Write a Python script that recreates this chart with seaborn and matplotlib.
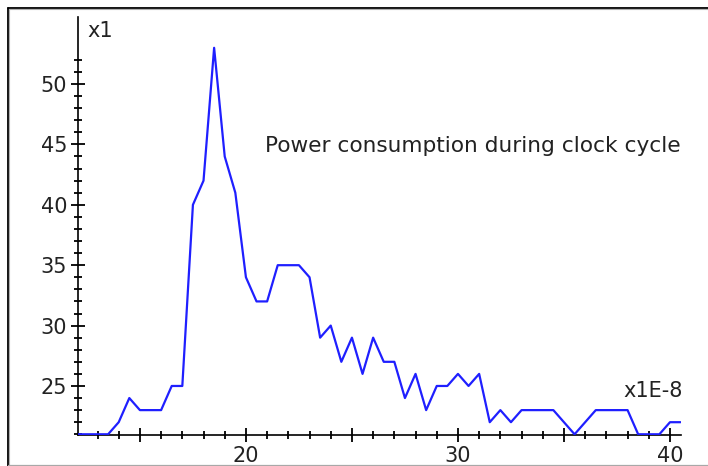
import numpy as np
import pandas as pd
import matplotlib
matplotlib.use("Agg")
import matplotlib.pyplot as plt
import seaborn as sns
from matplotlib.ticker import FixedLocator, FuncFormatter, MultipleLocator
from matplotlib.lines import Line2D

# ---- data ----
time_e8 = [12.0, 12.5, 13.0, 13.5, 14.0, 14.5, 15.0, 15.5, 16.0, 16.5,
           17.0, 17.5, 18.0, 18.5, 19.0, 19.5, 20.0, 20.5, 21.0, 21.5,
           22.0, 22.5, 23.0, 23.5, 24.0, 24.5, 25.0, 25.5, 26.0, 26.5,
           27.0, 27.5, 28.0, 28.5, 29.0, 29.5, 30.0, 30.5, 31.0, 31.5,
           32.0, 32.5, 33.0, 33.5, 34.0, 34.5, 35.0, 35.5, 36.0, 36.5,
           37.0, 37.5, 38.0, 38.5, 39.0, 39.5, 40.0, 40.5]
power = [21, 21, 21, 21, 22, 24, 23, 23, 23, 25,
         25, 40, 42, 53, 44, 41, 34, 32, 32, 35,
         35, 35, 34, 29, 30, 27, 29, 26, 29, 27,
         27, 24, 26, 23, 25, 25, 26, 25, 26, 22,
         23, 22, 23, 23, 23, 23, 22, 21, 22, 23,
         23, 23, 23, 21, 21, 21, 22, 22]
title_text = "Power consumption during clock cycle"
x_unit_label = "x1E-8"
y_unit_label = "x1"

df = pd.DataFrame({"t": time_e8, "p": power})

sns.set_style("white")
plt.rcParams["font.family"] = ["DejaVu Sans"]
TXT = "#222222"
FS = 15

fig = plt.figure(figsize=(7.08, 4.66), dpi=100)
W, H = 708, 466
L, R, B, T = 78, 681, 435, 17
ax = fig.add_axes([L / W, (H - B) / H, (R - L) / W, (B - T) / H])

sns.lineplot(data=df, x="t", y="p", ax=ax, color="#1f1fff", linewidth=1.6,
             clip_on=True, zorder=3)

ax.set_xlim(12.08, 40.52)
ax.set_ylim(20.94, 55.55)
ax.set_xlabel("")
ax.set_ylabel("")

for s in ["top", "right"]:
    ax.spines[s].set_visible(False)
for s in ["left", "bottom"]:
    ax.spines[s].set_color("black")
    ax.spines[s].set_linewidth(1.2)

ax.xaxis.set_major_locator(MultipleLocator(5))
ax.xaxis.set_major_formatter(FuncFormatter(lambda v, p: f"{int(round(v))}" if round(v) % 10 == 0 else ""))
ax.xaxis.set_minor_locator(MultipleLocator(1))
ax.yaxis.set_major_locator(FixedLocator([25, 30, 35, 40, 45, 50]))
ax.yaxis.set_minor_locator(FixedLocator(np.arange(21, 53)))

ax.tick_params(axis="both", which="both", bottom=True, left=True, top=False, right=False)
ax.tick_params(axis="both", which="major", direction="inout", length=10.5,
               width=1.3, color="black", labelsize=FS, labelcolor=TXT, pad=2.5)
ax.tick_params(axis="both", which="minor", direction="inout", length=5.8,
               width=1.3, color="black")
ax.tick_params(axis="x", which="major", pad=3)

ax.text(20.9, 44.4, title_text, fontsize=15.6, color=TXT, ha="left", va="baseline")
ax.text(40.6, 24.1, x_unit_label, fontsize=FS, color=TXT, ha="right", va="baseline")
ax.text(12.5, 53.9, y_unit_label, fontsize=FS, color=TXT, ha="left", va="baseline")

# sunken frame around the figure
fig.add_artist(Line2D([7.5 / W, 1], [1 - 7.5 / H, 1 - 7.5 / H], color="black", lw=1.3,
                      transform=fig.transFigure))
fig.add_artist(Line2D([7.5 / W, 7.5 / W], [0, 1 - 7.5 / H], color="black", lw=1.3,
                      transform=fig.transFigure))
fig.add_artist(Line2D([9 / W, 1], [1 - 9 / H, 1 - 9 / H], color="#b0b0b0", lw=0.8,
                      transform=fig.transFigure))
fig.add_artist(Line2D([9 / W, 9 / W], [0, 1 - 9 / H], color="#b0b0b0", lw=0.8,
                      transform=fig.transFigure))
fig.add_artist(Line2D([7.5 / W, 1], [1 - 464.5 / H, 1 - 464.5 / H], color="#a8a8a8", lw=0.9,
                      transform=fig.transFigure))

fig.savefig("out.png", dpi=100)
